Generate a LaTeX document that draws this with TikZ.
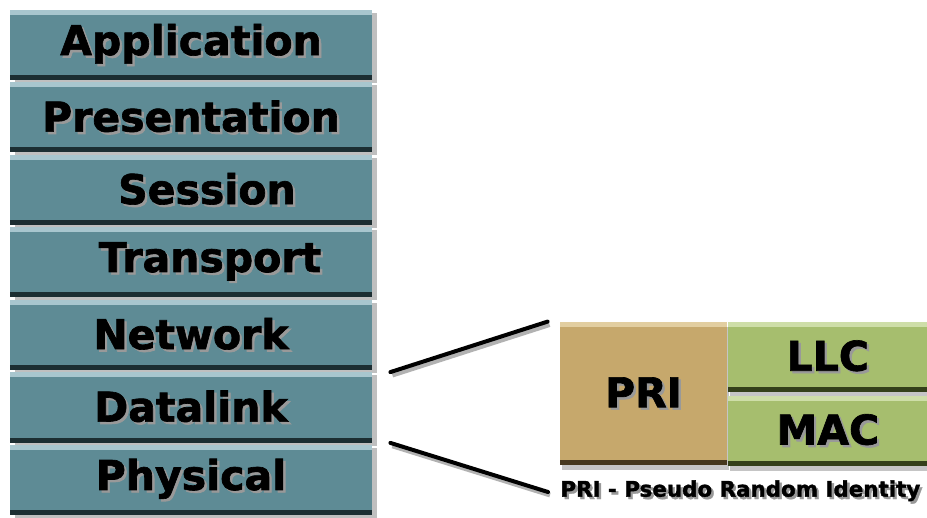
\documentclass[tikz,border=0pt]{standalone}
\usepackage{fontspec}
\setmainfont{DejaVu Sans}
\newfontfamily\heavy[FakeBold=1.6]{DejaVu Sans Bold}
\usetikzlibrary{positioning,shadows}
\definecolor{layer}{RGB}{94,139,149}
\definecolor{layerHi}{RGB}{168,198,206}
\definecolor{layerDk}{RGB}{28,46,50}
\definecolor{priTan}{RGB}{198,168,108}
\definecolor{priHi}{RGB}{226,206,160}
\definecolor{priDk}{RGB}{70,56,30}
\definecolor{subGreen}{RGB}{166,190,110}
\definecolor{subHi}{RGB}{206,222,168}
\definecolor{subDk}{RGB}{52,64,26}
% text with a soft shadow below right
\newcommand{\emb}[1]{\leavevmode\rlap{\hspace{1.2pt}\raisebox{-1.2pt}{\color{black!40}#1}}#1}
\tikzset{
  bevel/.style 2 args={path picture={
    \fill[#1] (path picture bounding box.north west) rectangle ([yshift=-2.5pt]path picture bounding box.north east);
    \fill[#2] ([yshift=2.5pt]path picture bounding box.south west) rectangle (path picture bounding box.south east);}},
  layerbox/.style={fill=layer,bevel={layerHi}{layerDk},minimum width=181pt,minimum height=35pt,
    inner sep=0pt,font=\heavy\fontsize{20.5}{22}\selectfont,
    drop shadow={shadow xshift=2.5pt,shadow yshift=-1.5pt,opacity=.5}},
  pribox/.style={fill=priTan,bevel={priHi}{priDk},minimum width=83.5pt,minimum height=71.5pt,
    inner sep=0pt,font=\heavy\fontsize{20.5}{22}\selectfont,
    drop shadow={shadow xshift=1pt,shadow yshift=-2.5pt,opacity=.45}},
  subbox/.style={fill=subGreen,bevel={subHi}{subDk},minimum width=100pt,minimum height=35pt,
    inner sep=0pt,font=\heavy\fontsize{20.5}{22}\selectfont,
    drop shadow={shadow xshift=1pt,shadow yshift=-2.5pt,opacity=.45}},
  lnk/.style={line width=2pt,black,line cap=round,
    preaction={draw=black!30,line width=2.4pt,transform canvas={xshift=1pt,yshift=-1.5pt}}},
}
\begin{document}
\begin{tikzpicture}[x=0.5pt,y=-0.5pt,node distance=0.85pt]
  \useasboundingbox[fill=white] (0,0) rectangle (927,518);
  % OSI stack
  \node[layerbox] (app) at (191,45) {\emb{Application}};
  \node[layerbox,below=of app] (pres) {\emb{Presentation}};
  \node[layerbox,below=of pres] (sess) {\hspace*{16pt}\emb{Session}};
  \node[layerbox,below=of sess] (trans) {\hspace*{19pt}\emb{Transport}};
  \node[layerbox,below=of trans] (net) {\emb{Network}};
  \node[layerbox,below=of net] (dl) {\emb{Datalink}};
  \node[layerbox,below=of dl] (phy) {\emb{Physical}};
  % datalink detail
  \node[pribox] (pri) at (643.5,393.5) {\emb{PRI}};
  \node[subbox,anchor=north west] (llc) at (pri.north east) {\emb{LLC}};
  \node[subbox,below=1.5pt of llc] (mac) {\emb{MAC}};
  \node[anchor=west,inner sep=0pt,font=\heavy\fontsize{10.7}{12}\selectfont]
    (note) at (560,492) {\emb{PRI - Pseudo Random Identity}};
  \draw[lnk] ([xshift=9pt]dl.north east) -- ([xshift=-6pt]pri.north west);
  \draw[lnk] ([xshift=9pt]dl.south east) -- ([xshift=-6pt]note.west);
\end{tikzpicture}
\end{document}
